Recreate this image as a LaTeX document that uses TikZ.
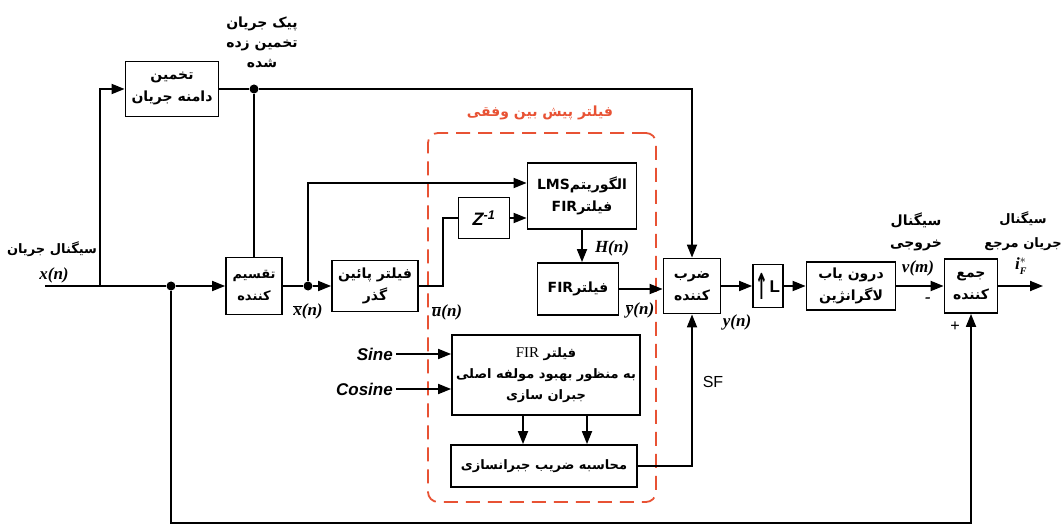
\documentclass[tikz,border=0pt]{standalone}
\usepackage{fontspec}
\usepackage{tikz}
\usetikzlibrary{arrows.meta, positioning, calc}
\TeXXeTstate=1
\setmainfont{Liberation Serif}
\newfontfamily\arabicfont[Script=Arabic]{DejaVu Sans}
\newfontfamily\sansfont{Liberation Sans}
\definecolor{filterred}{RGB}{232, 82, 52}
\newcommand{\fa}[1]{{\arabicfont\bfseries\beginR #1\endR}}
\tikzstyle{block} = [rectangle, draw, line width=1.8pt, align=center, inner sep=2pt, font=\fontsize{14}{22}\selectfont]
\tikzstyle{arrow} = [-{Triangle[length=13pt, width=10pt]}, line width=1.8pt]
\tikzstyle{wire} = [line width=1.8pt]
\tikzstyle{junction} = [circle, fill, inner sep=0pt, minimum size=9pt]
\tikzstyle{sig} = [font=\fontsize{17}{17}\selectfont\bfseries\itshape, inner sep=0pt]
\tikzstyle{note} = [align=center, inner sep=0pt, font=\fontsize{14}{21}\selectfont]
\tikzstyle{sansnote} = [inner sep=3pt, font=\sansfont\fontsize{16}{16}\selectfont]

\begin{document}
\begin{tikzpicture}[x=1pt, y=-1pt]
    \useasboundingbox (0,0) rectangle (1064,526);

    % Adaptive predictive filter frame
    \node[draw=filterred, line width=1.8pt, dash pattern=on 14pt off 8pt, rounded corners=10pt, minimum width=228pt, minimum height=369pt] (pred) at (542,317.5) {};
    \node[note, text=filterred] (predlabel) at (540,113) {\fa{فیلتر پیش بین وفقی}};

    % Blocks
    \node[block, minimum width=93pt, minimum height=55pt] (est) at (172,89) {\fa{تخمین}\\\fa{دامنه جریان}};
    \node[block, minimum width=56pt, minimum height=57pt, font=\fontsize{13}{22}\selectfont] (div) at (254,286) {\fa{تقسیم}\\\fa{کننده}};
    \node[block, minimum width=86pt, minimum height=51pt] (lpf) at (375,286) {\fa{فیلتر پائین}\\\fa{گذر}};
    \node[block, minimum width=51pt, minimum height=41pt, font=\sansfont\bfseries\itshape\fontsize{18}{18}\selectfont] (zinv) at (484,218) {Z\textsuperscript{-1}};
    \node[block, minimum width=109pt, minimum height=66pt] (lms) at (582,196) {\fa{الگوریتم\beginL LMS\endL}\\\fa{فیلتر\beginL FIR\endL}};
    \node[block, minimum width=81pt, minimum height=52pt] (fir) at (578,289) {\fa{فیلتر\beginL FIR\endL}};
    \node[block, minimum width=57pt, minimum height=55pt] (mult) at (692,286) {\fa{ضرب}\\\fa{کننده}};
    \node[block, minimum width=30pt, minimum height=43pt, inner sep=0pt, font=\sansfont\bfseries\fontsize{17}{17}\selectfont] (up) at (768,286) {\raisebox{-7pt}{\arabicfont\bfseries\scalebox{0.9}[2.1]{↑}}\kern1pt L};
    \node[block, minimum width=89pt, minimum height=48pt] (lag) at (851,286) {\fa{درون یاب}\\\fa{لاگرانژین}};
    \node[block, minimum width=53pt, minimum height=54pt] (sum) at (971,286) {\fa{جمع}\\\fa{کننده}};
    \node[block, minimum width=188pt, minimum height=80pt, font=\fontsize{13}{21}\selectfont] (firc) at (546,375) {\fa{فیلتر \beginL{\rmfamily\mdseries\fontsize{15}{15}\selectfont FIR}\endL}\\\fa{به منظور بهبود مولفه اصلی}\\\fa{جبران سازی}};
    \node[block, minimum width=186pt, minimum height=42pt, font=\fontsize{13}{21}\selectfont] (calc) at (544,466) {\fa{محاسبه ضریب جبرانسازی}};

    % Junctions and free ends
    \coordinate (in) at (45,286);
    \coordinate (split) at (100,286);
    \node[junction] (dotA) at (254,89) {};
    \node[junction] (dotB) at (171,286) {};
    \node[junction] (dotC) at (308,286) {};
    \coordinate (ubend) at (443,286);
    \coordinate (fb) at (971,523);
    \coordinate (out) at (1043,286);

    % Side inputs
    \node[sansnote, anchor=east, font=\sansfont\bfseries\itshape\fontsize{17}{17}\selectfont] (sine) at (396,354) {Sine};
    \node[sansnote, anchor=east, font=\sansfont\bfseries\itshape\fontsize{17}{17}\selectfont] (cosine) at (396,389) {Cosine};

    % Connectors
    \draw[wire] (in) -- (split) -- (dotB);
    \draw[arrow] (split) |- (est.west);
    \draw[arrow] (dotB) -- (div.west);
    \draw[wire] (est.east) -- (dotA);
    \draw[wire] (dotA) -- (div.north);
    \draw[arrow] (dotA) -| (mult.north);
    \draw[wire] (div.east) -- (dotC);
    \draw[arrow] (dotC) -- (lpf.west);
    \draw[arrow] (dotC) |- ([yshift=13pt]lms.west);
    \draw[wire] (lpf.east) -- (ubend) |- (zinv.west);
    \draw[arrow] (zinv.east) -- (zinv.east -| lms.west);
    \draw[arrow] (lms.south) -- (lms.south |- fir.north);
    \draw[arrow] (fir.east) -- (fir.east -| mult.west);
    \draw[arrow] (mult.east) -- (up.west);
    \draw[arrow] (up.east) -- (lag.west);
    \draw[arrow] (lag.east) -- (sum.west);
    \draw[arrow] (sum.east) -- (out);
    \draw[arrow] (sine.east) -- (sine.east -| firc.west);
    \draw[arrow] (cosine.east) -- (cosine.east -| firc.west);
    \draw[arrow] ([xshift=-23pt]firc.south) -- ([xshift=-23pt]firc.south |- calc.north);
    \draw[arrow] ([xshift=41pt]firc.south) -- ([xshift=41pt]firc.south |- calc.north);
    \draw[arrow] (calc.east) -| (mult.south);
    \draw[arrow] (dotB) |- (fb) -- (sum.south);

    % Signal labels
    \node[note, font=\fontsize{14}{20}\selectfont] (peaklabel) at (262,42) {\fa{پیک جریان}\\\fa{تخمین زده}\\\fa{شده}};
    \node[note, font=\fontsize{13}{21}\selectfont] (inlabel) at (52,249) {\fa{سیگنال جریان}};
    \node[sig] (xn) at (54,275) {x(n)};
    \node[sig] (xbar) at (308,311) {$\overline{\hbox{x}}$(n)};
    \node[sig] (ubar) at (447,312) {$\overline{\hbox{u}}$(n)};
    \node[sig] (hn) at (612,248) {H(n)};
    \node[sig] (ybar) at (640,310) {$\overline{\hbox{y}}$(n)};
    \node[sig] (yn) at (737,322) {y(n)};
    \node[sansnote] (sf) at (713,382) {SF};
    \node[note, font=\fontsize{14}{22}\selectfont] (outlabel) at (916,232) {\fa{سیگنال}\\\fa{خروجی}};
    \node[sig] (vm) at (918,268) {v(m)};
    \node[sig] (minus) at (928,300) {-};
    \node[sig] (plus) at (955,327) {+};
    \node[note, font=\fontsize{13}{24}\selectfont] (reflabel) at (1023,231) {\fa{سیگنال}\\\fa{جریان مرجع}};
    \node[sig] (iref) at (1021,266) {i$^{*}_{\hbox{\fontsize{10}{10}\selectfont F}}$};
\end{tikzpicture}
\end{document}
